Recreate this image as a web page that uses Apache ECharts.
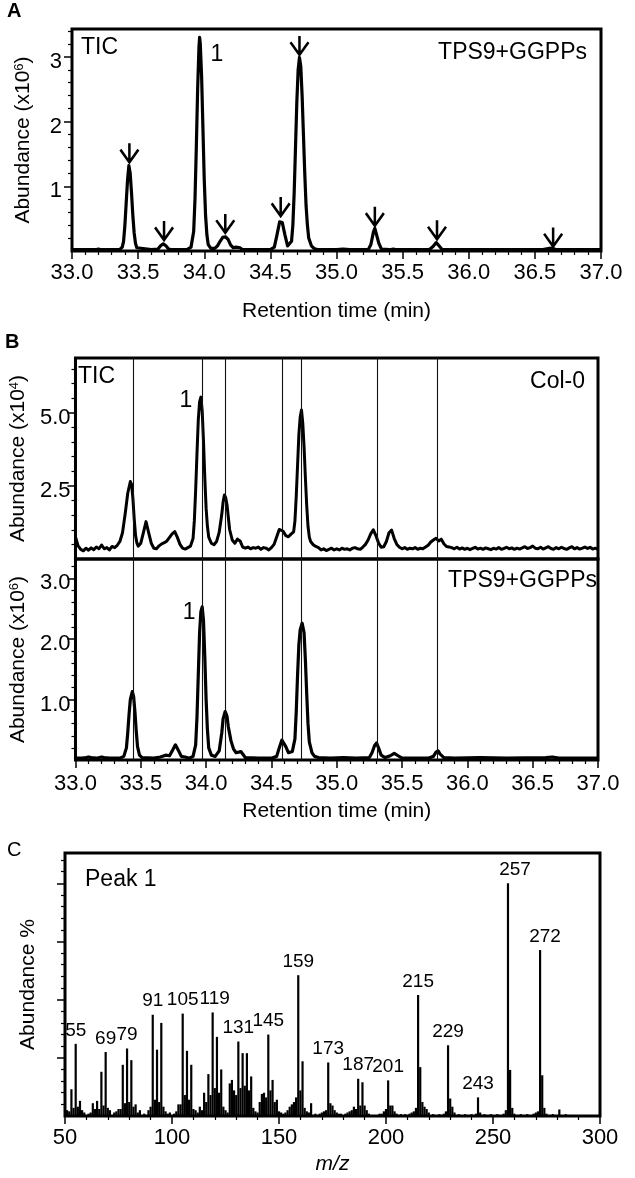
<!DOCTYPE html>
<html><head><meta charset="utf-8">
<script src="https://cdn.jsdelivr.net/npm/echarts@6.0.0/dist/echarts.min.js"></script>
<style>html,body{margin:0;padding:0;background:#fff}#c{width:635px;height:1178px}</style>
</head><body><div id="c"></div>
<script>
// ---------- DATA ----------
// Panel A: TIC of TPS9+GGPPs, retention time (min) vs abundance (x10^6)
const traceA = [[33.00,0.02],[33.10,0.02],[33.18,0.02],[33.20,0.03],[33.22,0.02],[33.30,0.02],[33.36,0.02],[33.38,0.06],[33.39,0.15],[33.40,0.40],[33.41,0.75],[33.42,1.10],[33.43,1.32],[33.44,1.20],[33.45,0.90],[33.46,0.55],[33.47,0.28],[33.48,0.12],[33.49,0.05],[33.50,0.02],[33.60,0.02],[33.65,0.03],[33.67,0.08],[33.69,0.11],[33.71,0.08],[33.73,0.03],[33.76,0.02],[33.87,0.02],[33.90,0.06],[33.92,0.30],[33.93,0.80],[33.94,1.60],[33.95,2.50],[33.96,3.15],[33.965,3.30],[33.97,3.20],[33.98,2.70],[33.99,1.90],[34.00,1.10],[34.01,0.55],[34.02,0.25],[34.03,0.10],[34.05,0.04],[34.08,0.04],[34.10,0.08],[34.12,0.15],[34.14,0.21],[34.16,0.22],[34.18,0.18],[34.20,0.09],[34.22,0.05],[34.24,0.06],[34.255,0.07],[34.27,0.05],[34.29,0.02],[34.40,0.02],[34.50,0.02],[34.53,0.06],[34.55,0.25],[34.57,0.45],[34.58,0.48],[34.59,0.44],[34.61,0.25],[34.63,0.08],[34.64,0.05],[34.66,0.15],[34.67,0.40],[34.68,0.90],[34.69,1.60],[34.70,2.30],[34.71,2.80],[34.72,2.99],[34.73,2.85],[34.74,2.40],[34.75,1.80],[34.76,1.20],[34.77,0.70],[34.78,0.40],[34.79,0.20],[34.81,0.08],[34.83,0.04],[34.86,0.02],[35.00,0.02],[35.05,0.03],[35.10,0.02],[35.24,0.02],[35.26,0.10],[35.28,0.30],[35.29,0.35],[35.30,0.32],[35.32,0.12],[35.34,0.03],[35.40,0.02],[35.43,0.03],[35.45,0.02],[35.70,0.02],[35.73,0.07],[35.754,0.13],[35.78,0.07],[35.80,0.02],[36.55,0.02],[36.61,0.04],[36.63,0.045],[36.66,0.02],[37.00,0.02]];
// arrow tips above the peaks of panel A
const arrowsA = [[33.434,1.37],[33.696,0.17],[34.159,0.28],[34.578,0.54],[34.72,3.03],[35.29,0.39],[35.76,0.18],[36.638,0.07]];
const peak1LabelA = [34.096, 3.03];

// Panel B (top): Col-0, abundance (x10^4)
const traceB1 = [[33.00,0.76],[33.01,0.60],[33.02,0.45],[33.04,0.33],[33.06,0.28],[33.08,0.37],[33.10,0.30],[33.12,0.38],[33.14,0.32],[33.16,0.41],[33.18,0.35],[33.20,0.48],[33.22,0.35],[33.24,0.39],[33.26,0.31],[33.28,0.43],[33.30,0.39],[33.32,0.47],[33.34,0.60],[33.36,0.90],[33.38,1.53],[33.40,2.25],[33.42,2.65],[33.43,2.55],[33.44,2.05],[33.45,1.35],[33.46,0.80],[33.47,0.55],[33.48,0.44],[33.50,0.54],[33.52,0.90],[33.54,1.28],[33.55,1.22],[33.56,0.90],[33.58,0.54],[33.60,0.37],[33.62,0.35],[33.64,0.45],[33.66,0.52],[33.68,0.56],[33.70,0.62],[33.72,0.74],[33.74,0.86],[33.76,0.94],[33.78,0.74],[33.80,0.50],[33.82,0.37],[33.84,0.34],[33.86,0.39],[33.88,0.44],[33.90,0.70],[33.91,1.32],[33.92,2.36],[33.93,3.60],[33.94,4.75],[33.95,5.38],[33.96,5.54],[33.97,5.07],[33.98,4.03],[33.99,2.78],[34.00,1.74],[34.01,1.12],[34.02,0.75],[34.04,0.54],[34.06,0.49],[34.08,0.60],[34.10,0.91],[34.12,1.53],[34.13,1.95],[34.14,2.19],[34.15,2.10],[34.16,1.85],[34.17,1.43],[34.18,1.01],[34.20,0.65],[34.22,0.54],[34.24,0.68],[34.26,0.62],[34.28,0.41],[34.30,0.37],[34.32,0.41],[34.34,0.35],[34.36,0.39],[34.38,0.37],[34.40,0.41],[34.42,0.33],[34.44,0.39],[34.46,0.37],[34.48,0.31],[34.50,0.39],[34.52,0.50],[34.54,0.75],[34.56,1.01],[34.575,1.05],[34.59,0.95],[34.61,0.80],[34.63,0.76],[34.65,0.85],[34.67,0.93],[34.68,1.30],[34.69,2.15],[34.70,3.20],[34.71,4.25],[34.72,4.85],[34.73,5.10],[34.74,4.65],[34.75,3.82],[34.76,2.78],[34.77,1.84],[34.78,1.12],[34.79,0.75],[34.80,0.60],[34.82,0.49],[34.84,0.43],[34.86,0.39],[34.88,0.31],[34.90,0.35],[34.92,0.29],[34.94,0.33],[34.96,0.37],[34.98,0.31],[35.00,0.35],[35.02,0.31],[35.04,0.37],[35.06,0.33],[35.08,0.35],[35.10,0.31],[35.12,0.37],[35.14,0.39],[35.16,0.35],[35.18,0.33],[35.20,0.41],[35.22,0.50],[35.24,0.65],[35.26,0.86],[35.28,1.00],[35.30,0.80],[35.32,0.55],[35.34,0.40],[35.36,0.42],[35.38,0.60],[35.40,0.90],[35.42,0.99],[35.44,0.70],[35.46,0.50],[35.48,0.40],[35.50,0.35],[35.52,0.39],[35.54,0.33],[35.56,0.37],[35.58,0.35],[35.60,0.39],[35.62,0.33],[35.64,0.37],[35.66,0.35],[35.68,0.41],[35.70,0.47],[35.72,0.58],[35.74,0.65],[35.76,0.71],[35.78,0.62],[35.80,0.68],[35.82,0.52],[35.84,0.43],[35.86,0.41],[35.88,0.39],[35.90,0.35],[35.92,0.40],[35.94,0.34],[35.96,0.38],[35.98,0.33],[36.00,0.37],[36.02,0.32],[36.04,0.36],[36.06,0.40],[36.08,0.34],[36.10,0.37],[36.12,0.33],[36.14,0.38],[36.16,0.35],[36.18,0.32],[36.20,0.37],[36.22,0.34],[36.24,0.39],[36.26,0.33],[36.28,0.36],[36.30,0.40],[36.32,0.35],[36.34,0.38],[36.36,0.33],[36.38,0.37],[36.40,0.34],[36.42,0.38],[36.44,0.42],[36.46,0.36],[36.48,0.39],[36.50,0.44],[36.52,0.37],[36.54,0.35],[36.56,0.40],[36.58,0.34],[36.60,0.38],[36.62,0.42],[36.64,0.36],[36.66,0.33],[36.68,0.39],[36.70,0.35],[36.72,0.40],[36.74,0.36],[36.76,0.33],[36.78,0.38],[36.80,0.42],[36.82,0.35],[36.84,0.39],[36.86,0.34],[36.88,0.37],[36.90,0.41],[36.92,0.36],[36.94,0.40],[36.96,0.34],[36.98,0.37],[37.00,0.33]];
const peak1LabelB1 = [33.846, 5.43];

// Panel B (bottom): TPS9+GGPPs, abundance (x10^6)
const traceB2 = [[33.00,0.03],[33.05,0.03],[33.08,0.04],[33.10,0.05],[33.12,0.04],[33.16,0.03],[33.20,0.05],[33.22,0.04],[33.26,0.03],[33.34,0.03],[33.37,0.06],[33.39,0.20],[33.40,0.45],[33.41,0.75],[33.42,1.00],[33.435,1.13],[33.445,1.05],[33.455,0.80],[33.465,0.48],[33.475,0.22],[33.49,0.08],[33.51,0.04],[33.60,0.03],[33.65,0.05],[33.69,0.08],[33.72,0.07],[33.74,0.15],[33.765,0.25],[33.79,0.15],[33.81,0.06],[33.84,0.05],[33.87,0.03],[33.90,0.06],[33.92,0.25],[33.93,0.70],[33.94,1.40],[33.95,2.10],[33.96,2.45],[33.97,2.53],[33.98,2.30],[33.99,1.70],[34.00,1.00],[34.01,0.50],[34.02,0.20],[34.04,0.08],[34.07,0.06],[34.10,0.15],[34.12,0.45],[34.13,0.68],[34.146,0.80],[34.16,0.72],[34.17,0.55],[34.19,0.32],[34.21,0.18],[34.23,0.12],[34.25,0.13],[34.266,0.14],[34.28,0.10],[34.30,0.04],[34.40,0.03],[34.50,0.03],[34.54,0.06],[34.56,0.20],[34.58,0.33],[34.59,0.34],[34.61,0.22],[34.63,0.12],[34.645,0.11],[34.66,0.14],[34.68,0.35],[34.69,0.80],[34.70,1.40],[34.71,1.90],[34.72,2.15],[34.735,2.26],[34.75,2.10],[34.76,1.65],[34.77,1.10],[34.78,0.60],[34.79,0.30],[34.81,0.12],[34.83,0.06],[34.86,0.04],[34.95,0.03],[35.05,0.04],[35.15,0.03],[35.25,0.04],[35.27,0.12],[35.29,0.24],[35.305,0.28],[35.32,0.20],[35.34,0.08],[35.37,0.04],[35.41,0.07],[35.44,0.11],[35.47,0.07],[35.50,0.03],[35.70,0.03],[35.74,0.06],[35.76,0.13],[35.776,0.15],[35.79,0.10],[35.82,0.04],[35.90,0.03],[36.10,0.04],[36.30,0.03],[36.60,0.04],[36.65,0.05],[36.70,0.03],[37.00,0.03]];
const peak1LabelB2 = [33.871, 2.44];
// reference retention times drawn as vertical lines through panel B
const markerTimesB = [33.435, 33.968, 34.15, 34.58, 34.735, 35.31, 35.773];

// Panel C: mass spectrum of peak 1, [m/z, relative abundance %]
const spectrumC = [[51,2.5],[52,2],[53,11.5],[54,3.5],[55,31],[56,4],[57,6.5],[58,2.5],[59,1.5],[61,1],[62,1.5],[63,5.5],[64,3],[65,6.5],[66,3],[67,19],[68,4.5],[69,27.5],[70,3.5],[71,2.5],[73,1.5],[74,2],[75,3],[76,3],[77,22],[78,5.5],[79,29],[80,6],[81,24],[82,4],[83,5],[84,1.5],[85,2.5],[87,1],[89,2.5],[90,4],[91,43.5],[92,7],[93,28.5],[94,6],[95,40],[96,4],[97,2],[98,1],[99,1.5],[101,1],[102,2],[103,5],[104,5],[105,44],[106,9],[107,28],[108,7],[109,22],[110,3],[111,2.5],[112,1.5],[113,4],[114,2.5],[115,10],[116,6],[117,18],[118,9],[119,44.5],[120,12],[121,34],[122,10],[123,20],[124,4],[125,2.5],[126,1.5],[127,14],[128,15.5],[129,11],[130,9],[131,32],[132,12],[133,27],[134,13],[135,27],[136,11],[137,17],[138,3.5],[139,2],[140,1.5],[141,6],[142,9.5],[143,10],[144,8],[145,35],[146,11],[147,15.5],[148,6],[149,7],[150,2],[151,1.5],[152,1],[153,1.5],[154,2.5],[155,4],[156,5],[157,6],[158,8],[159,60.5],[160,11],[161,23.5],[162,3.5],[163,2],[164,1.5],[165,5.5],[167,1],[169,1],[170,1.5],[171,2],[172,2.5],[173,23],[174,5.5],[175,4.5],[176,2.5],[177,1.5],[178,1],[179,1],[181,1],[182,1.5],[183,2],[184,2.5],[185,4],[186,3],[187,16],[188,4.5],[189,14.5],[190,4.5],[191,2.5],[192,1],[197,1],[198,1],[199,2],[200,3],[201,15.3],[202,4.5],[203,4.5],[204,2],[205,1],[207,0.8],[209,0.8],[211,1],[212,1.5],[213,2],[214,3.5],[215,52],[216,21],[217,6],[218,4],[219,3],[220,1.5],[222,0.8],[225,0.8],[227,1],[228,2],[229,30.4],[230,7.5],[231,4],[232,1.5],[234,0.8],[237,0.8],[240,0.8],[242,1],[243,8],[244,1.5],[246,0.8],[249,0.8],[252,0.8],[255,1],[256,2.5],[257,100],[258,19.8],[259,3.5],[260,1],[263,0.8],[266,0.8],[269,1],[270,1.5],[271,2],[272,71.3],[273,17.5],[274,3.5],[275,1],[278,0.8],[281,2.8],[284,0.8]];
const labeledMz = [55,69,79,91,105,119,131,145,159,173,187,201,215,229,243,257,272];

// tick values
const ticksA = [1,2,3];
const minorTicksA = [0.2,0.4,0.6,0.8,1.2,1.4,1.6,1.8,2.2,2.4,2.6,2.8,3.2,3.4];
const ticksB1 = [2.5,5.0];
const minorTicksB1 = [0.5,1.0,1.5,2.0,3.0,3.5,4.0,4.5,5.5,6.0,6.5];
const ticksB2 = [1,2,3];
const minorTicksB2 = [0.2,0.4,0.6,0.8,1.2,1.4,1.6,1.8,2.2,2.4,2.6,2.8,3.2];
const ticksC = [25,50,75,100];
const minorTicksC = [5,10,15,20,30,35,40,45,55,60,65,70,80,85,90,95,105,110];

// ---------- STYLE ----------
const FONT = '"Liberation Sans", Arial, Helvetica, sans-serif';
const BLACK = '#000';
const labelOffsetC = {257:[7,0], 272:[5,0], 119:[2,0]};

function xAxisCfg(grid, min, max, interval, opts) {
  return Object.assign({
    gridIndex: grid, type: 'value', min: min, max: max, interval: interval,
    axisLine: {show: false},
    axisTick: {show: true, inside: false, length: 8, lineStyle: {color: BLACK, width: 1.5}},
    minorTick: {show: true, splitNumber: 5, length: 4, lineStyle: {color: BLACK, width: 1.2}},
    splitLine: {show: false}, minorSplitLine: {show: false},
    axisLabel: {color: BLACK, fontSize: 22, fontFamily: FONT, margin: 11},
    nameLocation: 'middle',
    nameTextStyle: {color: BLACK, fontSize: 21, fontFamily: FONT}
  }, opts);
}
// labels sit a few pixels below their ticks, as in the original figure
function yLabel(ticks, margin, fmt) {
  return {show: true, customValues: ticks, color: BLACK, fontSize: 22, fontFamily: FONT,
    margin: margin, verticalAlign: 'top', lineHeight: 10, formatter: fmt};
}
function yMain(grid, max, ticks, label, opts) {
  return Object.assign({
    gridIndex: grid, type: 'value', min: 0, max: max, position: 'left',
    axisLine: {show: false},
    axisTick: {show: true, inside: false, length: 8, customValues: ticks, lineStyle: {color: BLACK, width: 1.5}},
    splitLine: {show: false},
    axisLabel: label || {show: false},
    nameLocation: 'middle', nameRotate: 90,
    nameTextStyle: {color: BLACK, fontSize: 21, fontFamily: FONT,
      rich: {a: {fontSize: 21, fontFamily: FONT, color: BLACK}, s: {fontSize: 13, fontFamily: FONT, color: BLACK, verticalAlign: 'top'}}}
  }, opts);
}
function yMinor(grid, max, ticks) {
  return {gridIndex: grid, type: 'value', min: 0, max: max, position: 'left', offset: 0,
    axisLine: {show: false}, splitLine: {show: false}, axisLabel: {show: false},
    axisTick: {show: true, inside: false, length: 4, customValues: ticks, lineStyle: {color: BLACK, width: 1.2}}};
}
const gridStyle = {show: true, borderColor: BLACK, borderWidth: 3, backgroundColor: 'transparent', containLabel: false};

const markLineB = {
  silent: true, symbol: ['none','none'], animation: false,
  label: {show: false}, emphasis: {disabled: true},
  lineStyle: {color: '#111', width: 1.1, type: 'solid'},
  data: markerTimesB.map(t => ({xAxis: t}))
};
function peakLabel(coord) {
  return {silent: true, symbol: 'circle', symbolSize: 1, itemStyle: {color: 'rgba(0,0,0,0)'},
    label: {show: true, position: 'inside', formatter: '1', color: BLACK, fontSize: 23, fontFamily: FONT},
    data: [{coord: coord}]};
}

const chart = echarts.init(document.getElementById('c'), null, {renderer: 'canvas'});
const option = {
  animation: false,
  backgroundColor: '#fff',
  grid: [
    Object.assign({left: 72, top: 29, width: 529, height: 222}, gridStyle),
    Object.assign({left: 70, top: 358, width: 528, height: 201}, gridStyle),
    Object.assign({left: 70, top: 559, width: 528, height: 201}, gridStyle),
    Object.assign({left: 65, top: 853, width: 535, height: 263}, gridStyle)
  ],
  xAxis: [
    xAxisCfg(0, 33, 37, 0.5, {name: 'Retention time (min)', nameGap: 50, axisLabel: {color: BLACK, fontSize: 22, fontFamily: FONT, margin: 11, formatter: v => v.toFixed(1)}}),
    xAxisCfg(1, 33, 37, 0.5, {show: false}),
    xAxisCfg(2, 33, 37, 0.5, {name: 'Retention time (min)', nameGap: 41, axisLabel: {color: BLACK, fontSize: 22, fontFamily: FONT, margin: 13, formatter: v => v.toFixed(1)}}),
    xAxisCfg(3, 50, 300, 50, {name: 'm/z', nameGap: 38, nameTextStyle: {color: BLACK, fontSize: 21, fontFamily: FONT, fontStyle: 'italic'}})
  ],
  yAxis: [
    yMain(0, 3.43, ticksA, yLabel(ticksA, 10, v => String(Math.round(v))), {name: '{a|Abundance (x10}{s|6}{a|)}', nameGap: 38}),
    yMinor(0, 3.43, minorTicksA),
    yMain(1, 6.88, ticksB1, yLabel(ticksB1, 5, v => v.toFixed(1)), {name: '{a|Abundance (x10}{s|4}{a|)}', nameGap: 40}),
    yMinor(1, 6.88, minorTicksB1),
    yMain(2, 3.32, ticksB2, yLabel(ticksB2, 5, v => v.toFixed(1)), {name: '{a|Abundance (x10}{s|6}{a|)}', nameGap: 40}),
    yMinor(2, 3.32, minorTicksB2),
    yMain(3, 113, ticksC, null, {name: 'Abundance %', nameGap: 26}),
    yMinor(3, 113, minorTicksC)
  ],
  series: [
    {type: 'line', xAxisIndex: 0, yAxisIndex: 0, data: traceA, showSymbol: false, symbol: 'none',
      lineStyle: {color: BLACK, width: 3.2, join: 'round'}, markPoint: peakLabel(peak1LabelA)},
    {type: 'scatter', xAxisIndex: 0, yAxisIndex: 0, data: arrowsA,
      symbol: 'path://M9,0L9,18M0,6L9,18L18,6', symbolSize: [18, 19], symbolOffset: [0, '-50%'],
      itemStyle: {color: 'rgba(0,0,0,0)', borderColor: BLACK, borderWidth: 2.6, opacity: 1}, silent: true},
    {type: 'line', xAxisIndex: 1, yAxisIndex: 2, data: traceB1, showSymbol: false, symbol: 'none',
      lineStyle: {color: BLACK, width: 3, join: 'round'}, markLine: markLineB, markPoint: peakLabel(peak1LabelB1)},
    {type: 'line', xAxisIndex: 2, yAxisIndex: 4, data: traceB2, showSymbol: false, symbol: 'none',
      lineStyle: {color: BLACK, width: 3.2, join: 'round'}, markLine: markLineB, markPoint: peakLabel(peak1LabelB2)},
    {type: 'bar', xAxisIndex: 3, yAxisIndex: 6, barWidth: 2.2, itemStyle: {color: BLACK},
      data: spectrumC.map(p => labeledMz.indexOf(p[0]) >= 0
        ? {value: p, label: {show: true, position: 'top', distance: 4, offset: labelOffsetC[p[0]] || [0,0],
            formatter: String(p[0]), color: BLACK, fontSize: 19, fontFamily: FONT}}
        : {value: p}),
      silent: true}
  ],
  graphic: [
    {type: 'text', x: 7, y: 1, style: {text: 'A', fill: BLACK, font: 'bold 20px ' + FONT}},
    {type: 'text', x: 5, y: 332, style: {text: 'B', fill: BLACK, font: 'bold 20px ' + FONT}},
    {type: 'text', x: 7, y: 840, style: {text: 'C', fill: BLACK, font: '20px ' + FONT}},
    {type: 'text', x: 81, y: 48, style: {text: 'TIC', fill: BLACK, font: '23px ' + FONT, verticalAlign: 'middle'}},
    {type: 'text', x: 587, y: 53, style: {text: 'TPS9+GGPPs', fill: BLACK, font: '23px ' + FONT, align: 'right', verticalAlign: 'middle'}},
    {type: 'text', x: 78, y: 377, style: {text: 'TIC', fill: BLACK, font: '23px ' + FONT, verticalAlign: 'middle'}},
    {type: 'text', x: 585, y: 382, style: {text: 'Col-0', fill: BLACK, font: '23px ' + FONT, align: 'right', verticalAlign: 'middle'}},
    {type: 'text', x: 597, y: 581, style: {text: 'TPS9+GGPPs', fill: BLACK, font: '23px ' + FONT, align: 'right', verticalAlign: 'middle'}},
    {type: 'text', x: 85, y: 880, style: {text: 'Peak 1', fill: BLACK, font: '23px ' + FONT, verticalAlign: 'middle'}}
  ]
};
chart.setOption(option);
</script></body></html>
